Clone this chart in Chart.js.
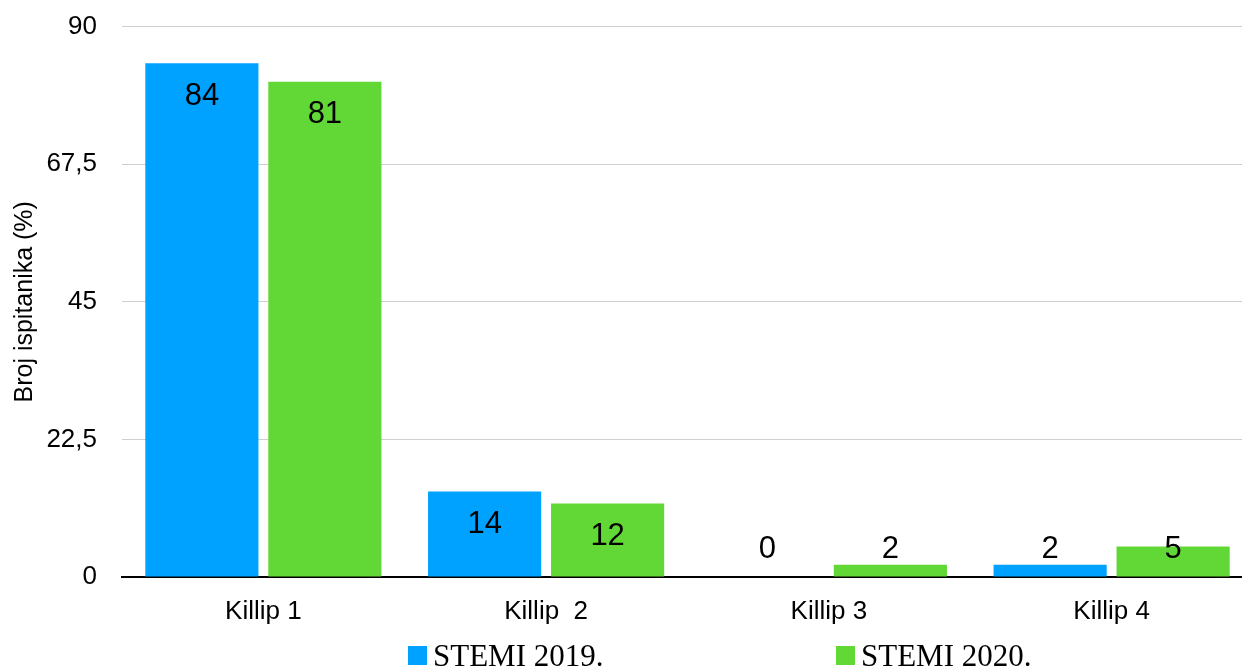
<!DOCTYPE html>
<html>
<head>
<meta charset="utf-8">
<script src="https://cdn.jsdelivr.net/npm/chart.js@4.4.0/dist/chart.umd.min.js"></script>
<style>
    body { margin: 0; background: #fff; overflow: hidden; width: 1242px; height: 671px; position: relative; }
    #wrap { position: absolute; left: 0; top: -14px; width: 1253px; height: 654px; }
    #legend { position: absolute; top: 638px; left: 0; width: 1242px; font-family: "Liberation Serif", "Times New Roman", serif; font-size: 31px; color: #000; }
    .item { position: absolute; top: 0; white-space: nowrap; }
    .box { display: inline-block; width: 19px; height: 19px; margin-right: 6px; vertical-align: 1px; }
</style>
</head>
<body>
<div id="wrap"><canvas id="chart"></canvas></div>
<div id="legend"></div>
<script>
const categories = ['Killip 1', 'Killip  2', 'Killip 3', 'Killip 4'];
const stemi2019 = [84, 14, 0, 2];
const stemi2020 = [81, 12, 2, 5];
const seriesNames = ['STEMI 2019.', 'STEMI 2020.'];
const seriesColors = ['#00a2ff', '#61d836'];
const yTicks = [0, 22.5, 45, 67.5, 90];

const ctx = document.getElementById('chart').getContext('2d');

// etikete vrijednosti (kao u Excelu, "inside end")
const valueLabels = {
    id: 'valueLabels',
    afterDatasetsDraw(chart) {
        const c = chart.ctx;
        c.save();
        c.font = '31px "Liberation Sans", Arial, sans-serif';
        c.fillStyle = '#000';
        c.textAlign = 'center';
        c.textBaseline = 'middle';
        chart.data.datasets.forEach((ds, i) => {
            chart.getDatasetMeta(i).data.forEach((bar, j) => {
                const y = Math.min(bar.y + 33, chart.chartArea.bottom - 28);
                c.fillText(String(ds.data[j]), bar.x, y);
            });
        });
        c.restore();
    }
};

const myChart = new Chart(ctx, {
    type: 'bar',
    data: {
        labels: categories,
        datasets: [
            { label: seriesNames[0], data: stemi2019, backgroundColor: seriesColors[0] },
            { label: seriesNames[1], data: stemi2020, backgroundColor: seriesColors[1] }
        ]
    },
    options: {
        responsive: true,
        maintainAspectRatio: false,
        animation: false,
        layout: { padding: { top: 12, bottom: 3, right: 0, left: 0 } },
        datasets: { bar: { categoryPercentage: 0.87, barPercentage: 0.92 } },
        plugins: {
            legend: { display: false },
            tooltip: { enabled: false }
        },
        scales: {
            x: {
                grid: { display: false, drawTicks: false },
                border: { display: true, color: '#000', width: 2 },
                ticks: { color: '#000', padding: 19, font: { family: '"Liberation Sans", Arial, sans-serif', size: 26 } },
                afterFit(scale) { scale.height = 60; }
            },
            y: {
                min: 0,
                max: 90,
                afterBuildTicks(scale) { scale.ticks = yTicks.map(v => ({ value: v })); },
                grid: { color: '#cfcfcf', lineWidth: 1, drawTicks: false },
                border: { display: false },
                ticks: {
                    color: '#000',
                    padding: 25,
                    font: { family: '"Liberation Sans", Arial, sans-serif', size: 26 },
                    callback: v => String(v).replace('.', ',')
                },
                title: {
                    display: true,
                    text: 'Broj ispitanika (%)',
                    color: '#000',
                    padding: { top: 10, bottom: 0 },
                    font: { family: '"Liberation Sans", Arial, sans-serif', size: 25 }
                },
                afterFit(scale) { scale.width = 122; }
            }
        }
    },
    plugins: [valueLabels]
});

// legenda ispod grafikona
function createLegend() {
    const legend = document.getElementById('legend');
    const lefts = [408, 836];
    seriesNames.forEach((name, i) => {
        const item = document.createElement('div');
        item.className = 'item';
        item.style.left = lefts[i] + 'px';
        item.innerHTML = `<span class="box" style="background:${seriesColors[i]}"></span>${name}`;
        legend.appendChild(item);
    });
}
createLegend();
</script>
</body>
</html>
